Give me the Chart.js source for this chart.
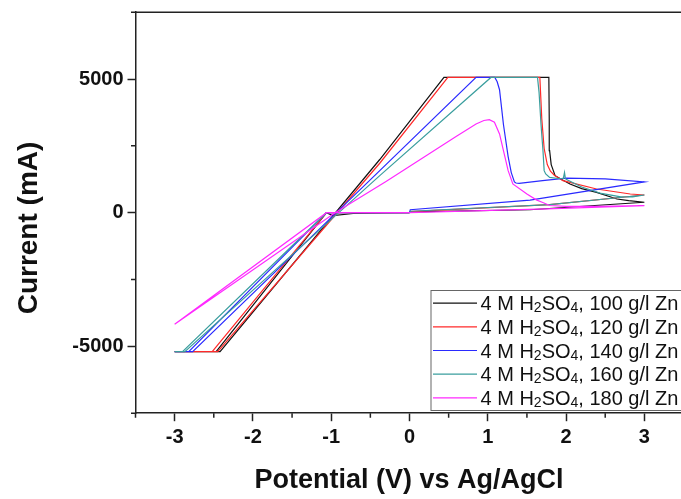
<!DOCTYPE html>
<html><head><meta charset="utf-8">
<script src="https://cdn.jsdelivr.net/npm/chart.js@4.4.1/dist/chart.umd.min.js"></script>
<style>html,body{margin:0;padding:0;overflow:hidden;background:#fff}
#wrap{position:absolute;left:0;top:0;width:700px;height:499px}</style>
</head><body><div id="wrap"><canvas id="c" width="700" height="499"></canvas></div>
<script>
// ---- data ----
const zincConc = ['100', '120', '140', '160', '180'];
const xTickValues = [-3, -2, -1, 0, 1, 2, 3];
const xMinorValues = [-3.5, -2.5, -1.5, -0.5, 0.5, 1.5, 2.5, 3.5];
const yTickValues = [-5000, 0, 5000];
const yMinorValues = [-7500, -2500, 2500, 7500];
const xTitle = 'Potential (V) vs Ag/AgCl';
const yTitle = 'Current (mA)';

// 100 g/l Zn
const v100 = [0, 0.01, 1.54, 3.0, 2.8, 2.65, 2.39, 2.2, 2.05, 1.95, 1.86, 1.81, 1.79, 1.785, 1.78, 0.44, -0.38, -2.42, -3.0, -2.47, -1.06, -0.98, -0.72, -0.3, 0];
const i100 = [0, 30, 110, 390, 450, 512, 762, 900, 1073, 1230, 1386, 1800, 2322, 3500, 5060, 5060, 1990, -5200, -5200, -5200, 0, -110, -30, -5, 0];
// 120 g/l Zn
const v120 = [0, 0.01, 1.79, 3.0, 2.82, 2.39, 1.96, 1.85, 1.8, 1.76, 1.72, 1.69, 1.665, 0.49, -0.38, -2.45, -3.0, -2.52, -1.06, 0];
const i120 = [0, 40, 300, 663, 700, 886, 1198, 1400, 1550, 1800, 2400, 3500, 5060, 5060, 1850, -5200, -5200, -5200, 0, 0];
// 140 g/l Zn
const v140 = [0, 0.01, 1.54, 3.0, 2.5, 2.0, 1.7, 1.4, 1.36, 1.34, 1.30, 1.26, 1.20, 1.15, 1.12, 1.09, 0.85, -0.38, -2.77, -3.0, -2.82, -1.06, 0];
const i140 = [0, 110, 470, 1150, 1262, 1290, 1200, 1097, 1110, 1150, 1500, 2100, 3300, 4600, 4900, 5060, 5060, 1573, -5200, -5200, -5200, 0, 0];
// 160 g/l Zn
const v160 = [0, 0.01, 1.79, 3.0, 2.85, 2.7, 2.45, 2.2, 2.0, 1.99, 1.98, 1.965, 1.9, 1.79, 1.74, 1.72, 1.705, 1.68, 1.655, 1.635, 1.04, -0.38, -2.87, -3.0, -2.9, -1.06, 0];
const i160 = [0, 55, 300, 663, 590, 590, 720, 960, 1250, 1300, 1500, 1280, 1280, 1323, 1450, 1573, 2322, 3300, 4500, 5060, 5060, 1386, -5200, -5200, -5200, 0, 0];
// 180 g/l Zn
const v180 = [0, 1.75, 3.0, 2.4, 2.0, 1.79, 1.71, 1.62, 1.5, 1.32, 1.26, 1.21, 1.15, 1.085, 1.02, 0.95, 0.85, 0.6, -0.3, -0.95, -3.0, -1.06, 0];
const i180 = [0, 140, 262, 240, 235, 270, 370, 480, 700, 1075, 1573, 2198, 2947, 3383, 3480, 3450, 3320, 2860, 1170, 0, -4170, 0, 0];

const seriesV = [v100, v120, v140, v160, v180];
const seriesI = [i100, i120, i140, i160, i180];
const colors = ['#111111', '#ff2a2a', '#2a2aff', '#3a9e9e', '#ff2aff'];

const FONT = '"Liberation Sans", Arial, sans-serif';

const datasets = seriesV.map((vs, k) => ({
  label: '4 M H2SO4, ' + zincConc[k] + ' g/l Zn',
  data: vs.map((v, j) => ({ x: v, y: seriesI[k][j] })),
  showLine: true, pointRadius: 0, borderColor: colors[k], backgroundColor: colors[k],
  borderWidth: 1.2, fill: false, tension: 0, order: 5 - k
}));

const decor = {
  id: 'decor',
  afterDraw(chart) {
    const { ctx, chartArea: a, scales: { x, y } } = chart;
    ctx.save();
    ctx.strokeStyle = '#222'; ctx.lineWidth = 1.5;
    ctx.beginPath();
    ctx.moveTo(a.left, a.top); ctx.lineTo(a.right, a.top); ctx.lineTo(a.right, a.bottom);
    ctx.stroke();
    ctx.beginPath();
    xMinorValues.forEach(v => { const px = x.getPixelForValue(v); ctx.moveTo(px, a.bottom); ctx.lineTo(px, a.bottom + 4.5); });
    yMinorValues.forEach(v => { const py = y.getPixelForValue(v); ctx.moveTo(a.left, py); ctx.lineTo(a.left - 4.5, py); });
    ctx.stroke();
    // axis titles
    ctx.fillStyle = '#111';
    ctx.font = 'bold 27px ' + FONT;
    ctx.textAlign = 'center'; ctx.textBaseline = 'alphabetic';
    ctx.fillText(xTitle, 409, 488);
    ctx.save();
    ctx.translate(37, 228); ctx.rotate(-Math.PI / 2);
    ctx.font = 'bold 28px ' + FONT;
    ctx.fillText(yTitle, 0, 0);
    ctx.restore();
    // legend
    const L = 431, T = 290.5, B = 410.5;
    ctx.fillStyle = '#fff';
    ctx.fillRect(L, T, 700 - L, B - T);
    ctx.strokeStyle = '#666'; ctx.lineWidth = 1;
    ctx.strokeRect(L, T, 700 - L, B - T);
    ctx.textAlign = 'left';
    zincConc.forEach((zn, k) => {
      const cy = 303.1 + k * 23.7;
      ctx.strokeStyle = colors[k]; ctx.lineWidth = 1.2;
      ctx.beginPath(); ctx.moveTo(433, cy); ctx.lineTo(477, cy); ctx.stroke();
      const parts = [['4 M H', 0], ['2', 1], ['SO', 0], ['4', 1], [', ' + zn + ' g/l Zn', 0]];
      let cx = 480.5;
      ctx.fillStyle = '#111';
      parts.forEach(([t, sub]) => {
        ctx.font = (sub ? '14px ' : '20px ') + FONT;
        ctx.fillText(t, cx, cy + 7 + (sub ? 2 : 0));
        cx += ctx.measureText(t).width;
      });
    });
    ctx.restore();
  }
};

new Chart(document.getElementById('c'), {
  type: 'scatter',
  data: { datasets },
  options: {
    responsive: false, animation: false, devicePixelRatio: 1,
    layout: { padding: { left: 0, top: 12.2, right: 16.5, bottom: 0 } },
    plugins: { legend: { display: false }, tooltip: { enabled: false } },
    scales: {
      x: {
        type: 'linear', min: -3.5, max: 3.5,
        afterBuildTicks: s => { s.ticks = xTickValues.map(v => ({ value: v })); },
        afterFit: s => { s.height = 85.8; s.paddingLeft = 0; s.paddingRight = 0; },
        grid: { drawOnChartArea: false, drawTicks: true, tickLength: 8, tickWidth: 1.5, tickColor: '#222' },
        border: { display: true, color: '#222', width: 1.5 },
        ticks: { font: { family: FONT, size: 20, weight: 'bold' }, color: '#111', padding: 4, maxRotation: 0, autoSkip: false, callback: v => String(v) }
      },
      y: {
        type: 'linear', min: -7500, max: 7500,
        afterBuildTicks: s => { s.ticks = yTickValues.map(v => ({ value: v })); },
        afterFit: s => { s.width = 135.5; s.paddingTop = 0; s.paddingBottom = 0; },
        grid: { drawOnChartArea: false, drawTicks: true, tickLength: 8, tickWidth: 1.5, tickColor: '#222' },
        border: { display: true, color: '#222', width: 1.5 },
        ticks: { font: { family: FONT, size: 20, weight: 'bold' }, color: '#111', padding: 4, autoSkip: false, callback: v => String(v) }
      }
    }
  },
  plugins: [decor]
});
</script></body></html>
